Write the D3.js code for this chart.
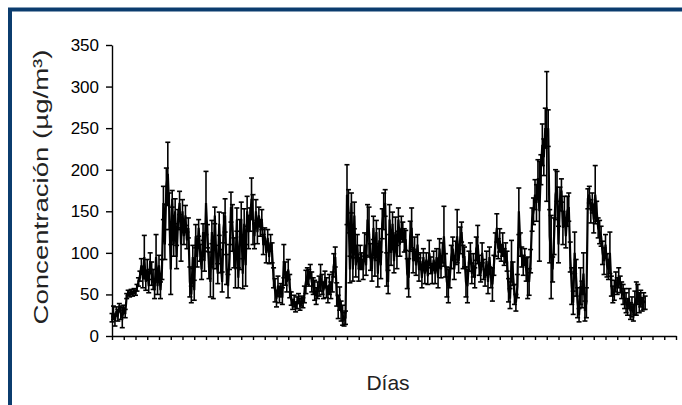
<!DOCTYPE html>
<html>
<head>
<meta charset="utf-8">
<script src="https://cdnjs.cloudflare.com/ajax/libs/d3/7.8.5/d3.min.js"></script>
<style>
body{margin:0;background:#fff;}
svg{display:block;font-family:"Liberation Sans",Arial,sans-serif;}
</style>
</head>
<body>
<div id="chart"></div>
<script>
// daily mean concentration (ug/m3)
var conc = [
 22,28,18,30,25,35,28,22,32,27,
 48,52,50,53,51,54,52,58,65,72,
 85,70,95,65,80,60,90,75,68,55,
 95,60,85,55,80,160,110,180,195,150,
 80,165,110,150,95,140,160,110,150,120,
 145,115,130,65,50,95,55,120,95,130,
 100,80,125,90,160,120,85,65,125,80,
 145,95,75,135,90,65,130,145,80,60,
 95,155,130,100,80,140,70,110,140,75,
 135,85,150,125,140,165,140,120,150,125,
 145,130,140,110,120,100,118,95,112,100,
 70,55,45,60,50,55,48,90,75,65,
 80,60,45,38,42,35,40,45,38,42,
 40,50,65,72,70,78,65,60,55,48,
 55,60,70,62,55,68,58,50,62,55,
 65,85,95,50,35,45,30,25,20,22,
 170,150,80,160,80,145,85,110,80,95,
 90,80,110,85,140,125,95,80,130,90,
 125,75,115,85,135,150,160,80,65,140,
 100,135,90,125,95,140,110,130,125,115,
 115,75,70,120,130,90,105,85,110,80,
 90,70,95,75,92,72,100,85,75,92,
 75,95,70,105,80,100,120,85,65,60,
 70,95,105,80,100,120,90,115,125,95,
 95,65,60,90,100,75,85,70,105,110,
 85,75,100,80,70,90,65,95,70,62,
 85,110,130,105,115,100,110,95,100,90,
 55,45,90,75,50,40,60,150,110,95,
 85,95,80,70,65,90,140,150,170,160,
 190,150,200,230,215,250,240,250,120,95,
 80,120,170,180,110,165,175,130,150,120,
 150,155,95,60,40,100,70,40,25,60,
 50,75,30,40,165,170,150,160,140,170,
 150,130,125,120,100,90,110,85,80,100,
 60,50,55,65,60,70,62,55,50,45,
 40,35,45,30,35,28,40,45,50,40,45,38,42,40
];
// error bar half length for each day
var err = [
 5,8,6,5,7,4,8,12,5,5,
 3,3,3,3,3,3,3,4,5,6,
 8,12,26,10,12,8,10,14,12,10,
 27,10,12,10,12,20,18,22,38,22,
 30,10,14,15,14,12,14,20,14,10,
 12,10,12,18,10,14,12,14,12,10,
 10,12,10,12,38,14,16,18,14,35,
 10,14,12,14,14,12,18,20,18,14,
 15,18,28,18,22,14,12,30,21,18,
 18,25,18,20,14,25,30,15,14,14,
 10,10,12,12,10,12,10,8,10,12,
 12,14,10,12,10,8,10,20,14,12,
 12,14,8,6,7,6,7,6,7,6,
 6,10,14,10,10,8,12,10,12,10,
 10,12,16,12,10,10,12,10,12,10,
 12,14,12,14,14,14,12,12,8,8,
 36,26,16,12,14,16,14,12,14,14,
 10,12,14,12,18,30,16,14,14,18,
 14,16,14,16,18,22,16,20,14,18,
 15,14,14,18,14,14,14,14,12,14,
 12,18,23,18,24,14,14,12,12,14,
 10,12,10,12,8,10,15,10,12,10,
 12,10,12,12,10,12,36,14,18,20,
 12,14,14,12,14,32,14,16,12,14,
 12,18,20,12,12,12,14,12,14,23,
 12,10,12,12,10,12,14,12,12,20,
 12,14,17,12,14,10,14,10,12,12,
 14,12,25,14,12,10,14,28,14,12,
 12,10,14,25,16,14,14,16,18,22,
 22,60,18,25,22,24,78,22,32,50,
 15,22,30,18,22,14,14,20,18,14,
 18,17,18,22,14,25,22,18,8,22,
 16,25,12,18,12,10,14,12,16,35,
 12,12,14,12,14,16,12,14,12,25,
 12,10,12,12,10,12,10,10,12,12,
 12,10,12,10,12,10,14,20,12,12,10,8,10,8
];
var yTicks = [0,50,100,150,200,250,300,350];
var dayMax = 384;   // x axis end
var dayStep = 8;    // one small tick every 8 days

var W = 682, H = 405;
var svg = d3.select("#chart").append("svg").attr("width",W).attr("height",H);

// blue frame (only top and left edges show)
svg.append("rect").attr("x",10).attr("y",9.5).attr("width",720).attr("height",440)
 .attr("fill","none").attr("stroke","#0b3c6e").attr("stroke-width",4);

var x = d3.scaleLinear().domain([0,dayMax]).range([112,676]);
var y = d3.scaleLinear().domain([0,350]).range([336,45]);

// error bars
var capW = 2.5;
var eb = svg.append("g").attr("stroke","#000").attr("stroke-width",1.6).attr("fill","none");
conc.forEach(function(v,i){
	var xi = x(i), lo = y(Math.max(0,v-err[i])), hi = y(v+err[i]);
	eb.append("line").attr("x1",xi).attr("x2",xi).attr("y1",lo).attr("y2",hi);
	eb.append("line").attr("x1",xi-capW).attr("x2",xi+capW).attr("y1",hi).attr("y2",hi);
	eb.append("line").attr("x1",xi-capW).attr("x2",xi+capW).attr("y1",lo).attr("y2",lo);
});

// daily line
var line = d3.line().x(function(d,i){return x(i);}).y(function(d){return y(d);});
svg.append("path").datum(conc).attr("d",line)
 .attr("fill","none").attr("stroke","#000").attr("stroke-width",2.2);

// axes
var yAxis = svg.append("g").attr("transform","translate(112,0)")
 .call(d3.axisLeft(y).tickValues(yTicks).tickSize(6).tickSizeOuter(0).tickPadding(7));
var xAxis = svg.append("g").attr("transform","translate(0,336)")
 .call(d3.axisBottom(x).tickValues(d3.range(0,dayMax+1,dayStep)).tickSize(4).tickSizeOuter(0).tickFormat(""));
svg.selectAll(".domain, .tick line").attr("stroke","#000").attr("stroke-width",1.4);
yAxis.selectAll("text").attr("font-size",17).attr("fill","#000")
 .attr("font-family","'Liberation Sans',Arial,sans-serif");

// axis titles
svg.append("text").attr("transform","translate(48,187) rotate(-90)")
 .attr("text-anchor","middle").attr("font-size",20).attr("fill","#222")
 .attr("textLength",275).attr("lengthAdjust","spacingAndGlyphs")
 .text("Concentración (µg/m³)");
svg.append("text").attr("x",388).attr("y",390).attr("text-anchor","middle")
 .attr("font-size",21).attr("fill","#222").text("Días");
</script>
</body>
</html>
